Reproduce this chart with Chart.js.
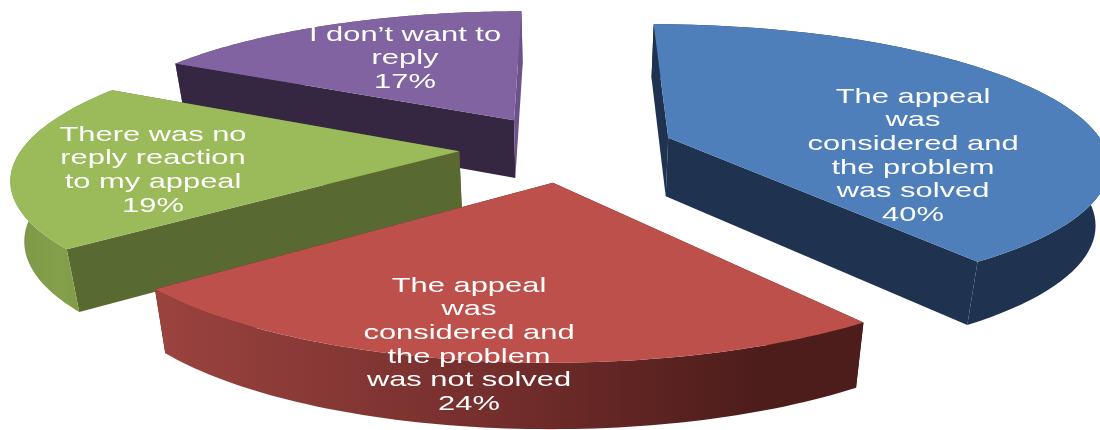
<!DOCTYPE html>
<html>
    <head>
        <meta charset="utf-8">
        <title>Appeal outcomes</title>
        <script src="https://cdn.jsdelivr.net/npm/chart.js@4/dist/chart.umd.js"></script>
        <style>
            html, body { margin: 0; background: #fff; }
            canvas { display: block; }
        </style>
    </head>
    <body>
        <div style="width:1100px;height:430px"><canvas id="chart" width="1100" height="430"></canvas></div>
        <script>
        // slice values, clockwise from twelve o'clock
        const categories = [
            'The appeal was considered and the problem was solved',
            'The appeal was considered and the problem was not solved',
            'There was no reply reaction to my appeal',
            "I don’t want to reply"
        ];
        const shares = [40, 24, 19, 17];

        // wrapped label text, the percentage goes on the last line
        const labelLines = [
            ['The appeal', 'was', 'considered and', 'the problem', 'was solved'],
            ['The appeal', 'was', 'considered and', 'the problem', 'was not solved'],
            ['There was no', 'reply reaction', 'to my appeal'],
            ['I don’t want to', 'reply']
        ];
        const labelCentreX = [913, 469, 153, 405];
        const labelFirstY = [97, 286, 135, 35];

        const topColors = ['#4f7fba', '#be504c', '#9bba59', '#8063a0'];
        const startFaceColors = ['#1f3350', '#4d1d1b', '#586a31', '#352741'];
        const endFaceColors = ['#1f3350', '#4d1d1b', '#586a31', '#6b5389'];
        const rimStops = [
            ['#1f3350', '#1f3350', '#1f3350'],
            ['#9b433f', '#722d2b', '#4d1d1b'],
            ['#7c9746', '#84a04b', '#7c9746'],
            ['#6b5389', '#6b5389', '#6b5389']
        ];

        // far slices are painted first so the near ones cover them
        const paintOrder = [3, 0, 2, 1];

        // camera for the tilted pie plane
        const camera = { cx: 567, cy: 148, scaleX: 437, scaleY: 136, perspective: 0.17, depth: 59, depthPerspective: 0.09, taper: 0.025 };
        const steps = 72;

        // unit plane point to screen, z = 0 is the top face and z = 1 the bottom
        function project(u, v, z) {
            const w = 1 - camera.perspective * v;
            return {
                x: camera.cx + camera.scaleX * u / w * (1 - camera.taper * z),
                y: camera.cy + camera.scaleY * v / w + camera.depth * z / (1 - camera.depthPerspective * v)
            };
        }

        function fillPath(ctx, pts, style) {
            ctx.beginPath();
            pts.forEach((p, i) => i ? ctx.lineTo(p.x, p.y) : ctx.moveTo(p.x, p.y));
            ctx.closePath();
            ctx.fillStyle = style;
            ctx.fill();
        }

        const pie3d = {
            id: 'pie3d',
            beforeDatasetsDraw(chart) {
                const ctx = chart.ctx;
                const arcs = chart.getDatasetMeta(0).data;
                ctx.save();
                paintOrder.forEach(i => {
                    const arc = arcs[i];
                    const mid = (arc.startAngle + arc.endAngle) / 2;
                    const push = arc.options.offset / arc.outerRadius;
                    const ou = push * Math.cos(mid);
                    const ov = push * Math.sin(mid);

                    const rim = [];
                    for (let s = 0; s <= steps; s++) {
                        const a = arc.startAngle + (arc.endAngle - arc.startAngle) * s / steps;
                        rim.push([ou + Math.cos(a), ov + Math.sin(a)]);
                    }
                    const first = rim[0];
                    const last = rim[steps];
                    const topRim = rim.map(p => project(p[0], p[1], 0));
                    const lowRim = rim.map(p => project(p[0], p[1], 1));

                    const paintCutWalls = () => {
                        fillPath(ctx, [project(ou, ov, 0), project(first[0], first[1], 0), project(first[0], first[1], 1), project(ou, ov, 1)], startFaceColors[i]);
                        fillPath(ctx, [project(ou, ov, 0), project(last[0], last[1], 0), project(last[0], last[1], 1), project(ou, ov, 1)], endFaceColors[i]);
                    };
                    const paintOuterWall = () => {
                        const xs = topRim.map(p => p.x);
                        const grad = ctx.createLinearGradient(Math.min(...xs), 0, Math.max(...xs), 0);
                        grad.addColorStop(0, rimStops[i][0]);
                        grad.addColorStop(0.5, rimStops[i][1]);
                        grad.addColorStop(0.85, rimStops[i][2]);
                        grad.addColorStop(1, rimStops[i][2]);
                        fillPath(ctx, topRim.concat(lowRim.slice().reverse()), grad);
                    };

                    // on a slice pointing away the outer wall is the farther one
                    if (ov < 0) {
                        paintOuterWall();
                        paintCutWalls();
                    } else {
                        paintCutWalls();
                        paintOuterWall();
                    }

                    // top face
                    fillPath(ctx, [project(ou, ov, 0)].concat(topRim), topColors[i]);
                });
                ctx.restore();
                return false;
            },
            afterDraw(chart) {
                const ctx = chart.ctx;
                const lineHeight = 23.6;
                const stretch = 1.47;
                ctx.save();
                ctx.font = '21px "Liberation Sans"';
                ctx.fillStyle = '#fff';
                ctx.textAlign = 'center';
                ctx.textBaseline = 'middle';
                labelLines.forEach((lines, i) => {
                    lines.concat(shares[i] + '%').forEach((line, n) => {
                        ctx.save();
                        ctx.translate(labelCentreX[i], labelFirstY[i] + n * lineHeight);
                        ctx.scale(stretch, 1);
                        ctx.fillText(line, 0, 0);
                        ctx.restore();
                    });
                });
                ctx.restore();
            }
        };

        new Chart(document.getElementById('chart').getContext('2d'), {
            type: 'pie',
            data: {
                labels: categories,
                datasets: [{
                    data: shares,
                    backgroundColor: topColors,
                    offset: 47
                }]
            },
            options: {
                responsive: false,
                animation: false,
                plugins: {
                    legend: { display: false },
                    tooltip: { enabled: false }
                }
            },
            plugins: [pie3d]
        });
        </script>
    </body>
</html>
